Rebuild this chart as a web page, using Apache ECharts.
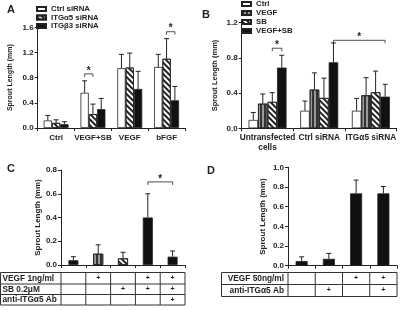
<!DOCTYPE html>
<html>
<head>
<meta charset="utf-8">
<script src="https://cdn.jsdelivr.net/npm/echarts@6/dist/echarts.min.js"></script>
<style>
  html, body { margin: 0; padding: 0; background: #fff; }
  #chart { width: 402px; height: 310px; }
</style>
</head>
<body>
<div id="chart"></div>
<script>
// ---- panel A ----
const catsA = ['Ctrl', 'VEGF+SB', 'VEGF', 'bFGF'];
const namesA = ['Ctrl siRNA', 'ITGα5 siRNA', 'ITGβ3 siRNA'];
const meanA = [
  [0.12, 0.56, 0.95, 0.97],
  [0.08, 0.22, 0.96, 1.10],
  [0.06, 0.30, 0.62, 0.44]
];
const errA = [
  [0.20, 0.75, 1.17, 1.17],
  [0.13, 0.38, 1.19, 1.42],
  [0.10, 0.47, 0.90, 0.66]
];
// [category, slot, category, slot, height]
const sigA = [[1, 0, 1, 1, 0.86], [3, 1, 3, 2, 1.53]];

// ---- panel B ----
const catsB = ['Untransfected\ncells', 'Ctrl siRNA', 'ITGα5 siRNA'];
const namesB = ['Ctrl', 'VEGF', 'SB', 'VEGF+SB'];
const meanB = [
  [0.095, 0.20, 0.20],
  [0.28, 0.44, 0.375],
  [0.30, 0.345, 0.41],
  [0.69, 0.75, 0.36]
];
const errB = [
  [0.18, 0.31, 0.34],
  [0.39, 0.63, 0.575],
  [0.405, 0.57, 0.65],
  [0.83, 0.97, 0.50]
];
const sigB = [[0, 2, 0, 3, 0.91], [1, 3, 2, 3, 1.0]];

// ---- panel C ----
const meanC = [0.04, 0.095, 0.056, 0.40, 0.07];
const errC = [0.07, 0.17, 0.107, 0.60, 0.118];
const fillC = ['solid', 'stripe', 'hatch', 'solid', 'solid'];
const sigC = [[3, 0, 4, 0, 0.70]];
const rowsC = ['VEGF 1ng/ml', 'SB 0.2μM', 'anti-ITGα5 Ab'];
const plusC = [
  [0, 1, 0, 1, 1],
  [0, 0, 1, 1, 1],
  [0, 0, 0, 0, 1]
];

// ---- panel D ----
const meanD = [0.047, 0.07, 0.735, 0.735];
const errD = [0.09, 0.125, 0.87, 0.805];
const rowsD = ['VEGF 50ng/ml', 'anti-ITGα5 Ab'];
const plusD = [
  [0, 0, 1, 1],
  [0, 1, 0, 1]
];

const FONT = 'Liberation Sans, Arial, sans-serif';
const INK = '#222';

const hatch = { symbol: 'rect', symbolSize: 1, dashArrayX: [1, 0], dashArrayY: [1.2, 1.6], rotation: Math.PI / 4, color: INK };
const stripe = { symbol: 'rect', symbolSize: 1, dashArrayX: [1.2, 1.3], dashArrayY: [1, 0], color: '#333' };
const styles = {
  white: { color: '#fff' },
  hatch: { color: '#fff', decal: hatch },
  stripe: { color: '#999', decal: stripe },
  solid: { color: '#111' }
};

function bar(name, g, data, st, bw) {
  return {
    type: 'bar', name: name, xAxisIndex: g, yAxisIndex: g, data: data,
    barWidth: bw, barGap: '0%',
    itemStyle: Object.assign({ borderColor: INK, borderWidth: 0.8 }, styles[st]),
    emphasis: { disabled: true }, animation: false
  };
}

function errBars(g, means, tops, slot, n, bw) {
  return {
    type: 'custom', xAxisIndex: g, yAxisIndex: g, animation: false, silent: true,
    encode: { x: 0, y: 2 },
    data: means.map((m, i) => [i, m, tops[i]]),
    renderItem: function (params, api) {
      const off = (slot - (n - 1) / 2) * bw;
      const p0 = api.coord([api.value(0), api.value(1)]);
      const p1 = api.coord([api.value(0), api.value(2)]);
      const x = p0[0] + off;
      const st = { stroke: INK, lineWidth: 1 };
      return {
        type: 'group', children: [
          { type: 'line', shape: { x1: x, y1: p0[1], x2: x, y2: p1[1] }, style: st },
          { type: 'line', shape: { x1: x - 2.5, y1: p1[1], x2: x + 2.5, y2: p1[1] }, style: st }
        ]
      };
    }
  };
}

function brackets(g, rows, n, bw) {
  return {
    type: 'custom', xAxisIndex: g, yAxisIndex: g, animation: false, silent: true,
    encode: { x: 0, y: 4 },
    data: rows,
    renderItem: function (params, api) {
      const y = api.value(4);
      const a = api.coord([api.value(0), y]);
      const b = api.coord([api.value(2), y]);
      const x1 = a[0] + (api.value(1) - (n - 1) / 2) * bw;
      const x2 = b[0] + (api.value(3) - (n - 1) / 2) * bw;
      return {
        type: 'group', children: [
          { type: 'polyline', shape: { points: [[x1, a[1] + 3], [x1, a[1]], [x2, a[1]], [x2, a[1] + 3]] },
            style: { stroke: INK, lineWidth: 0.8, fill: null } },
          { type: 'text', x: (x1 + x2) / 2, y: a[1] + 2,
            style: { text: '*', fill: INK, font: 'bold 10px ' + FONT, textAlign: 'center', textVerticalAlign: 'bottom' } }
        ]
      };
    }
  };
}

function xAx(g, data, fs) {
  return {
    type: 'category', gridIndex: g, data: data,
    axisLine: { lineStyle: { color: INK, width: 1 } },
    axisTick: { show: true, length: 3, lineStyle: { color: INK } },
    axisLabel: { show: data[0] !== '', interval: 0, color: INK, fontSize: fs, fontWeight: 'bold', fontFamily: FONT, margin: 5, lineHeight: 9.5 }
  };
}

function yAx(g, max, step, gap, nfs) {
  return {
    type: 'value', gridIndex: g, min: 0, max: max, interval: step,
    splitLine: { show: false },
    axisLine: { show: true, lineStyle: { color: INK, width: 1 } },
    axisTick: { show: true, length: 3, lineStyle: { color: INK } },
    axisLabel: { color: INK, fontSize: 8, fontWeight: 'bold', fontFamily: FONT, margin: 4, formatter: v => v.toFixed(1) },
    name: 'Sprout Length (mm)', nameLocation: 'middle', nameGap: gap,
    nameTextStyle: { color: INK, fontSize: nfs, fontWeight: 'bold', fontFamily: FONT }
  };
}

const series = [];
const stA = ['white', 'hatch', 'solid'];
namesA.forEach((nm, i) => series.push(bar(nm, 0, meanA[i], stA[i], 8.3)));
namesA.forEach((nm, i) => series.push(errBars(0, meanA[i], errA[i], i, 3, 8.3)));
series.push(brackets(0, sigA, 3, 8.3));

const stB = ['white', 'stripe', 'hatch', 'solid'];
namesB.forEach((nm, i) => series.push(bar(nm, 1, meanB[i], stB[i], 9.5)));
namesB.forEach((nm, i) => series.push(errBars(1, meanB[i], errB[i], i, 4, 9.5)));
series.push(brackets(1, sigB, 4, 9.5));

series.push(bar('C', 2, meanC.map((v, i) => ({
  value: v, itemStyle: Object.assign({ borderColor: INK, borderWidth: 0.8 }, styles[fillC[i]])
})), 'solid', 10));
series.push(errBars(2, meanC, errC, 0, 1, 10));
series.push(brackets(2, sigC, 1, 10));

series.push(bar('D', 3, meanD, 'solid', 12));
series.push(errBars(3, meanD, errD, 0, 1, 12));

const legendText = { color: INK, fontSize: 7.8, fontWeight: 'bold', fontFamily: FONT };

const chart = echarts.init(document.getElementById('chart'), null, { renderer: 'canvas' });
chart.setOption({
  animation: false,
  backgroundColor: '#fff',
  textStyle: { fontFamily: FONT },
  grid: [
    { left: 37.7, top: 27.3, width: 147.3, height: 100.7 },
    { left: 241.7, top: 22.7, width: 155, height: 105.6 },
    { left: 61, top: 170, width: 124, height: 95 },
    { left: 288, top: 167.3, width: 109, height: 98.4 }
  ],
  xAxis: [
    xAx(0, catsA, 8),
    xAx(1, catsB, 8.3),
    xAx(2, ['', '', '', '', ''], 7),
    xAx(3, ['', '', '', ''], 7)
  ],
  yAxis: [
    yAx(0, 1.6, 0.4, 24, 7),
    yAx(1, 1.2, 0.4, 23, 7.5),
    yAx(2, 0.8, 0.2, 17, 8),
    yAx(3, 1.0, 0.2, 21, 8)
  ],
  legend: [
    { data: namesA, orient: 'vertical', left: 36, top: 5, itemWidth: 9, itemHeight: 4, itemGap: 0.5,
      icon: 'rect', selectedMode: false, textStyle: legendText, padding: 0 },
    { data: namesB, orient: 'vertical', left: 241, top: 0, itemWidth: 9, itemHeight: 4, itemGap: 1,
      icon: 'rect', selectedMode: false, textStyle: legendText, padding: 0 }
  ],
  series: series
});

// panel letters and the condition tables under C and D
const g = [];
[['A', 7, 4], ['B', 202, 9], ['C', 7, 163], ['D', 207, 165]].forEach(p => {
  g.push({ type: 'text', x: p[1], y: p[2], style: { text: p[0], fill: INK, font: 'bold 11px ' + FONT } });
});

function table(axisIdx, n, left, rowY, labels, marks, labelAlign) {
  const c0 = chart.convertToPixel({ xAxisIndex: axisIdx }, 0);
  const c1 = chart.convertToPixel({ xAxisIndex: axisIdx }, 1);
  const band = c1 - c0;
  const x0 = c0 - band / 2;
  const right = x0 + band * n;
  const ln = { stroke: '#333', lineWidth: 1 };
  rowY.forEach(y => g.push({ type: 'line', shape: { x1: left, y1: y, x2: right, y2: y }, style: ln }));
  const top = rowY[0], bot = rowY[rowY.length - 1];
  g.push({ type: 'line', shape: { x1: left, y1: top, x2: left, y2: bot }, style: ln });
  for (let k = 0; k <= n; k++) {
    const x = x0 + band * k;
    g.push({ type: 'line', shape: { x1: x, y1: top, x2: x, y2: bot }, style: ln });
  }
  labels.forEach((lab, r) => {
    const cy = (rowY[r] + rowY[r + 1]) / 2;
    g.push({ type: 'text', x: labelAlign === 'left' ? left + 2 : x0 - 4, y: cy,
      style: { text: lab, fill: INK, font: 'bold 8.3px ' + FONT, textAlign: labelAlign, textVerticalAlign: 'middle' } });
    marks[r].forEach((m, k) => {
      if (!m) return;
      g.push({ type: 'text', x: c0 + band * k, y: cy,
        style: { text: '+', fill: INK, font: 'bold 7px ' + FONT, textAlign: 'center', textVerticalAlign: 'middle' } });
    });
  });
}
table(2, 5, 0.5, [272.5, 284, 294.5, 305], rowsC, plusC, 'left');
table(3, 4, 221.5, [272.5, 284.5, 296.5], rowsD, plusD, 'right');

chart.setOption({ graphic: g });
</script>
</body>
</html>
